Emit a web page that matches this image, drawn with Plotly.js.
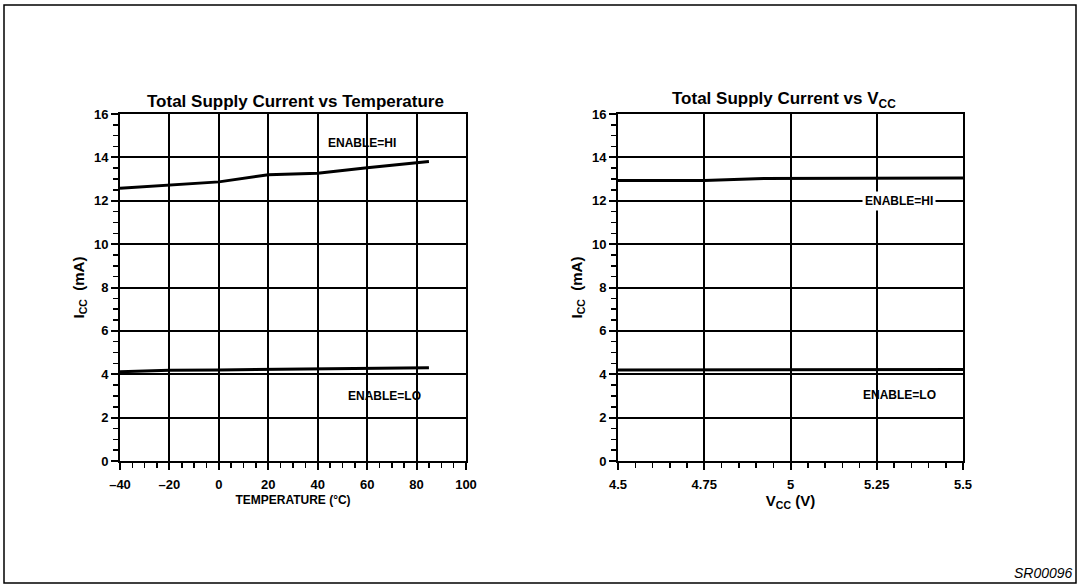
<!DOCTYPE html>
<html>
<head>
<meta charset="utf-8">
<script src="https://cdn.plot.ly/plotly-3.0.1.min.js"></script>
<style>
  html, body { margin: 0; padding: 0; background: #fff; }
  #chart { width: 1082px; height: 588px; }
</style>
</head>
<body>
<div id="chart"></div>
<script>
// Supply current vs ambient temperature (°C)
const tempC      = [-40, -20, 0, 20, 40, 60, 85];
const iccHiTemp  = [12.58, 12.72, 12.87, 13.2, 13.27, 13.52, 13.81];
const iccLoTemp  = [4.12, 4.18, 4.2, 4.22, 4.23, 4.28, 4.3];

// Supply current vs supply voltage (V)
const vcc        = [4.5, 4.75, 4.9, 5.0, 5.25, 5.5];
const iccHiVcc   = [12.93, 12.93, 13.02, 13.03, 13.05, 13.05];
const iccLoVcc   = [4.2, 4.2, 4.21, 4.21, 4.22, 4.22];

// Axis ticks
const tempTicks      = [-40, -20, 0, 20, 40, 60, 80, 100];
const tempTickText   = ['\u201340', '\u201320', '0', '20', '40', '60', '80', '100'];
const vccTicks       = [4.5, 4.75, 5, 5.25, 5.5];
const vccTickText    = ['4.5', '4.75', '5', '5.25', '5.5'];
const iccTicks       = [0, 2, 4, 6, 8, 10, 12, 14, 16];

const FONT = 'Liberation Sans, Arial, Helvetica, sans-serif';
const W = 1082, H = 588;
const px = v => v / W;
const py = v => 1 - v / H;

const curve = (x, y, xa, ya) => ({
  x, y, xaxis: xa, yaxis: ya, type: 'scatter', mode: 'lines',
  line: { color: '#000', width: 3 }, hoverinfo: 'skip', showlegend: false
});

const data = [
  curve(tempC, iccHiTemp, 'x', 'y'),
  curve(tempC, iccLoTemp, 'x', 'y'),
  curve(vcc, iccHiVcc, 'x2', 'y2'),
  curve(vcc, iccLoVcc, 'x2', 'y2')
];

const tickFont = { family: FONT, size: 13, color: '#000', weight: 'bold' };

function xAxis(domain, range, vals, text, dtickMinor, titleText, titleSize, anchor) {
  return {
    domain, range, anchor,
    tickmode: 'array', tickvals: vals, ticktext: text,
    ticks: 'outside', ticklen: 7, tickwidth: 2, tickcolor: '#000',
    ticklabelstandoff: 3,
    minor: { dtick: dtickMinor, ticks: 'outside', ticklen: 5, tickwidth: 1.5, tickcolor: '#000', showgrid: false },
    showgrid: true, gridcolor: '#000', gridwidth: 2,
    showline: true, linecolor: '#000', linewidth: 2, mirror: true,
    zeroline: false, tickfont: tickFont,
    title: { text: titleText, standoff: 5, font: { family: FONT, size: titleSize, color: '#000', weight: 'bold' } },
    automargin: false, fixedrange: true
  };
}

function yAxis(domain, anchor) {
  return {
    domain, range: [0, 16], anchor,
    tickmode: 'array', tickvals: iccTicks,
    ticks: 'outside', ticklen: 7, tickwidth: 2, tickcolor: '#000',
    minor: { dtick: 0.5, ticks: 'outside', ticklen: 5, tickwidth: 1.5, tickcolor: '#000', showgrid: false },
    showgrid: true, gridcolor: '#000', gridwidth: 2,
    showline: true, linecolor: '#000', linewidth: 2, mirror: true,
    zeroline: false, tickfont: tickFont,
    title: { text: 'I<sub>CC</sub>  (mA)', standoff: 6, font: { family: FONT, size: 15, color: '#000', weight: 'bold' } },
    automargin: false, fixedrange: true
  };
}

const yDom = [py(461), py(114)];

const label = (text, x, y, xref, yref, extra) => Object.assign({
  text, x, y, xref, yref, showarrow: false,
  xanchor: 'center', yanchor: 'middle',
  font: { family: FONT, size: 12, color: '#000', weight: 'bold' }
}, extra || {});

const titleFont = { family: FONT, size: 17, color: '#000', weight: 'bold' };

const layout = {
  width: W, height: H,
  margin: { l: 0, r: 0, t: 0, b: 0 },
  paper_bgcolor: '#fff', plot_bgcolor: '#fff',
  showlegend: false,
  xaxis: xAxis([px(120), px(466)], [-40, 100], tempTicks, tempTickText, 5, 'TEMPERATURE (\u00B0C)', 12, 'y'),
  yaxis: yAxis(yDom, 'x'),
  xaxis2: xAxis([px(618), px(963)], [4.5, 5.5], vccTicks, vccTickText, 0.05, 'V<sub>CC</sub> (V)', 15, 'y2'),
  yaxis2: yAxis(yDom, 'x2'),
  annotations: [
    label('Total Supply Current vs Temperature', px(295), py(101), 'paper', 'paper', { font: titleFont }),
    label('Total Supply Current vs V<sub>CC</sub>', px(784), py(100), 'paper', 'paper', { font: titleFont }),
    label('ENABLE=HI', 58, 14.65, 'x', 'y'),
    label('ENABLE=LO', 67, 3.0, 'x', 'y'),
    label('ENABLE=HI', 5.314, 12.0, 'x2', 'y2', { bgcolor: '#fff', borderpad: 2 }),
    label('ENABLE=LO', 5.316, 3.05, 'x2', 'y2'),
    label('SR00096', px(1043), py(573), 'paper', 'paper',
      { font: { family: FONT, size: 14, color: '#000', style: 'italic' } })
  ],
  shapes: [
    { type: 'rect', xref: 'paper', yref: 'paper',
      x0: px(4), x1: px(1076), y0: py(583), y1: py(5),
      line: { color: '#000', width: 1.5 }, fillcolor: 'rgba(0,0,0,0)', layer: 'below' }
  ]
};

Plotly.newPlot('chart', data, layout, { staticPlot: true, displayModeBar: false });
</script>
</body>
</html>
